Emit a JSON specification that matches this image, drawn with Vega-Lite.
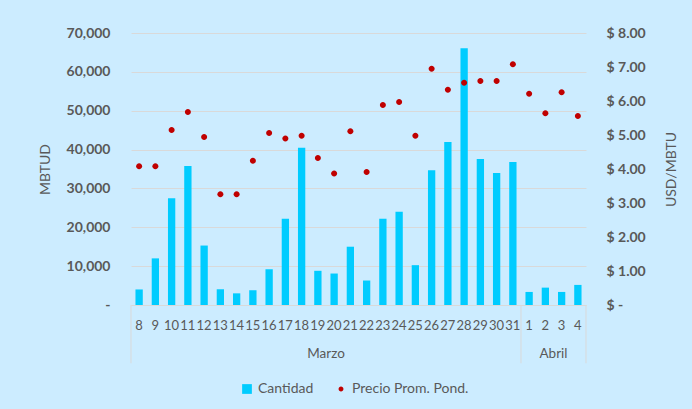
{
  "$schema": "https://vega.github.io/schema/vega-lite/v6.json",
  "width": 455,
  "height": 272,
  "autosize": {"type": "none"},
  "padding": {"left": 131, "top": 33, "right": 106, "bottom": 104},
  "background": "#CCECFF",
  "config": {
    "view": {"stroke": null},
    "font": "Lato",
    "axis": {"labelColor": "#595959", "titleColor": "#595959", "gridColor": "#D9D9D9", "gridWidth": 1.2, "domainColor": "#D9D9D9", "ticks": false, "tickSize": 0, "labelOverlap": false, "labelFlush": false},
    "axisLeft": {"tickCount": 7},
    "legend": {"orient": "none", "legendX": 109, "legendY": 349, "direction": "horizontal", "labelColor": "#595959", "labelFont": "Lato", "labelFontSize": 14, "labelOffset": 4, "columnPadding": 20, "symbolSize": 95, "title": null, "symbolStrokeWidth": 0}
  },
  "data": {
    "values": [
      {"k": "03-08", "cantidad": 4000, "precio": 4.08},
      {"k": "03-09", "cantidad": 12000, "precio": 4.08},
      {"k": "03-10", "cantidad": 27500, "precio": 5.15},
      {"k": "03-11", "cantidad": 35800, "precio": 5.68},
      {"k": "03-12", "cantidad": 15300, "precio": 4.94},
      {"k": "03-13", "cantidad": 4050, "precio": 3.26},
      {"k": "03-14", "cantidad": 3000, "precio": 3.26},
      {"k": "03-15", "cantidad": 3800, "precio": 4.24},
      {"k": "03-16", "cantidad": 9200, "precio": 5.06},
      {"k": "03-17", "cantidad": 22200, "precio": 4.90},
      {"k": "03-18", "cantidad": 40500, "precio": 4.98},
      {"k": "03-19", "cantidad": 8800, "precio": 4.32},
      {"k": "03-20", "cantidad": 8100, "precio": 3.87},
      {"k": "03-21", "cantidad": 15000, "precio": 5.11},
      {"k": "03-22", "cantidad": 6300, "precio": 3.91},
      {"k": "03-23", "cantidad": 22200, "precio": 5.88},
      {"k": "03-24", "cantidad": 24000, "precio": 5.97},
      {"k": "03-25", "cantidad": 10250, "precio": 4.98},
      {"k": "03-26", "cantidad": 34700, "precio": 6.95},
      {"k": "03-27", "cantidad": 41950, "precio": 6.33},
      {"k": "03-28", "cantidad": 66050, "precio": 6.54},
      {"k": "03-29", "cantidad": 37570, "precio": 6.59},
      {"k": "03-30", "cantidad": 33970, "precio": 6.59},
      {"k": "03-31", "cantidad": 36800, "precio": 7.08},
      {"k": "04-01", "cantidad": 3360, "precio": 6.21},
      {"k": "04-02", "cantidad": 4470, "precio": 5.64},
      {"k": "04-03", "cantidad": 3360, "precio": 6.26},
      {"k": "04-04", "cantidad": 5170, "precio": 5.56}
    ]
  },
  "layer": [
    {
      "layer": [
        {
          "mark": {"type": "bar", "width": {"band": 0.45}},
          "encoding": {
            "x": {
              "field": "k", "type": "ordinal",
              "scale": {"paddingInner": 0, "paddingOuter": 0},
              "axis": {"title": null, "labelAngle": 0, "labelFontSize": 13, "labelBaseline": "middle", "labelPadding": 20, "labelExpr": "'' + toNumber(slice(datum.value, 3))", "domainWidth": 1}
            },
            "y": {
              "field": "cantidad", "type": "quantitative",
              "scale": {"domain": [0, 70000], "nice": false},
              "axis": {"title": "MBTUD", "titleFontSize": 14, "titleFontWeight": "normal", "titleX": -86, "titleY": 136, "titleAngle": -90, "titleBaseline": "middle", "titleAlign": "center", "tickCount": 7, "labelFontSize": 14, "labelFontWeight": "bold", "labelPadding": 21, "domain": false, "labelExpr": "datum.value == 0 ? '-' : format(datum.value, ',')"}
            },
            "color": {
              "datum": "Cantidad",
              "scale": {"domain": ["Cantidad", "Precio Prom. Pond."], "range": ["#00CCFF", "#C00000"]}
            }
          }
        },
        {
          "data": {"values": [{}]},
          "mark": {"type": "rule", "color": "#D9D9D9", "strokeWidth": 1},
          "encoding": {"x": {"datum": "03-08", "type": "ordinal", "bandPosition": 0}, "y": {"datum": 0}, "y2": {"datum": -15000}}
        },
        {
          "data": {"values": [{}]},
          "mark": {"type": "rule", "color": "#D9D9D9", "strokeWidth": 1},
          "encoding": {"x": {"datum": "04-01", "type": "ordinal", "bandPosition": 0}, "y": {"datum": 0}, "y2": {"datum": -15000}}
        },
        {
          "data": {"values": [{}]},
          "mark": {"type": "rule", "color": "#D9D9D9", "strokeWidth": 1},
          "encoding": {"x": {"datum": "04-04", "type": "ordinal", "bandPosition": 1}, "y": {"datum": 0}, "y2": {"datum": -15000}}
        },
        {
          "data": {"values": [{}]},
          "mark": {"type": "text", "font": "Lato", "fontSize": 13.5, "color": "#595959", "baseline": "middle", "align": "center"},
          "encoding": {"x": {"datum": "03-19", "type": "ordinal", "bandPosition": 1}, "y": {"datum": -12600}, "text": {"value": "Marzo"}}
        },
        {
          "data": {"values": [{}]},
          "mark": {"type": "text", "font": "Lato", "fontSize": 13.5, "color": "#595959", "baseline": "middle", "align": "center"},
          "encoding": {"x": {"datum": "04-02", "type": "ordinal", "bandPosition": 1}, "y": {"datum": -12600}, "text": {"value": "Abril"}}
        }
      ]
    },
    {
      "mark": {"type": "point", "filled": true, "size": 144, "opacity": 1},
      "encoding": {
        "x": {"field": "k", "type": "ordinal"},
        "y": {
          "field": "precio", "type": "quantitative",
          "scale": {"domain": [0, 8], "nice": false},
          "axis": {"orient": "right", "grid": false, "title": "USD/MBTU", "titleFontSize": 14, "titleFontWeight": "normal", "titleX": 85, "titleY": 136, "titleAngle": -90, "titleBaseline": "middle", "titleAlign": "center", "values": [0, 1, 2, 3, 4, 5, 6, 7, 8], "labelFontSize": 14, "labelFontWeight": "bold", "labelPadding": 20, "domain": false, "labelExpr": "datum.value == 0 ? '$ -' : '$ ' + format(datum.value, '.2f')"}
        },
        "color": {"datum": "Precio Prom. Pond."},
        "shape": {
          "datum": "Precio Prom. Pond.",
          "scale": {"domain": ["Cantidad", "Precio Prom. Pond."], "range": ["M-1,-1H1V1H-1Z", "M0,-0.5A0.5,0.5 0 1,1 0,0.5A0.5,0.5 0 1,1 0,-0.5Z"]}
        }
      }
    }
  ],
  "resolve": {"scale": {"y": "independent"}}
}
